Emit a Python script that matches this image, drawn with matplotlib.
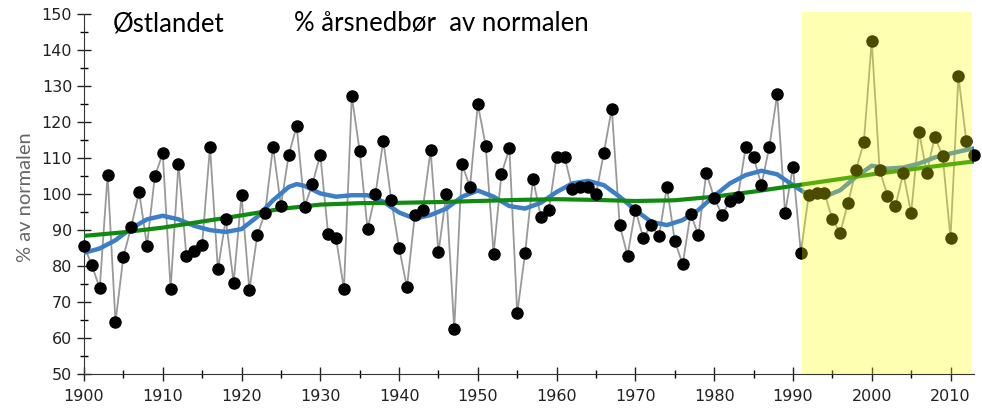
import matplotlib
matplotlib.use("Agg")
import matplotlib.pyplot as plt
from matplotlib.ticker import MultipleLocator

# annual precipitation, % of normal, Østlandet 1900-2013
years = list(range(1900, 2014))
values = [
    85.6, 80.2, 73.7, 105.3, 64.3, 82.5, 90.8, 100.6, 85.6, 104.9,
    111.2, 73.5, 108.4, 82.8, 84.0, 85.9, 113.1, 79.0, 92.9, 75.3,
    99.7, 73.2, 88.5, 94.8, 113.1, 96.7, 110.9, 118.8, 96.4, 102.7,
    110.9, 88.7, 87.7, 73.5, 127.1, 111.9, 90.2, 99.9, 114.8, 98.4,
    85.0, 74.0, 94.1, 95.6, 112.1, 83.7, 100.0, 62.4, 108.2, 101.9,
    124.9, 113.3, 83.4, 105.5, 112.6, 66.8, 83.6, 104.1, 93.6, 95.4,
    110.3, 110.3, 101.3, 101.9, 101.8, 99.9, 111.4, 123.7, 91.4, 82.8,
    95.6, 87.7, 91.3, 88.3, 101.9, 86.9, 80.4, 94.5, 88.5, 105.8,
    98.9, 94.1, 98.0, 99.0, 112.9, 110.2, 102.4, 113.1, 127.6, 94.7,
    107.5, 83.6, 99.6, 100.3, 100.3, 92.9, 89.2, 97.5, 106.6, 114.4,
    142.5, 106.6, 99.5, 96.5, 105.8, 94.6, 117.1, 105.9, 115.9, 110.6,
    87.6, 132.7, 114.8, 110.8,
]

# smoothed curve (blue)
smooth_years = [1900, 1902, 1904, 1906, 1908, 1910, 1912, 1914, 1916, 1918,
                1920, 1922, 1924, 1926, 1927, 1928, 1930, 1932, 1934, 1936,
                1938, 1940, 1942, 1944, 1946, 1948, 1950, 1952, 1954, 1956,
                1958, 1960, 1962, 1964, 1966, 1968, 1970, 1972, 1974, 1976,
                1978, 1980, 1982, 1984, 1986, 1988, 1990, 1992, 1994, 1996,
                1998, 2000, 2002, 2004, 2006, 2008, 2010, 2012, 2013]
smooth_vals = [83.6, 84.8, 87.1, 90.4, 92.9, 93.9, 92.9, 91.1, 89.9, 89.4,
               90.2, 93.6, 98.2, 101.9, 102.7, 102.2, 100.1, 99.2, 99.6, 99.6,
               97.8, 94.8, 93.1, 94.1, 95.9, 99.2, 100.9, 99.2, 96.6, 95.9,
               97.5, 100.5, 102.9, 103.6, 102.4, 99.2, 95.5, 92.2, 91.3, 92.7,
               95.5, 99.4, 102.9, 105.2, 106.4, 105.4, 102.4, 99.6, 99.2, 101.0,
               104.7, 107.8, 107.0, 107.3, 108.4, 110.1, 111.2, 112.2, 112.6]

# long-term trend (green)
trend_years = [1900, 1905, 1910, 1915, 1920, 1925, 1930, 1935, 1940, 1945,
               1950, 1955, 1960, 1965, 1970, 1975, 1980, 1985, 1990, 1995,
               2000, 2005, 2010, 2013]
trend_vals = [88.3, 89.3, 90.6, 92.3, 94.0, 95.8, 97.0, 97.4, 97.5, 97.7,
              98.0, 98.3, 98.5, 98.3, 98.0, 98.2, 99.2, 100.6, 102.2, 103.8,
              105.4, 106.8, 108.2, 109.0]

fig = plt.figure(figsize=(9.82, 4.08), dpi=100)
ax = fig.add_axes([0.0855, 0.084, 0.9065, 0.882])

ax.plot(years, values, color="#999999", lw=1.3, zorder=2)
ax.plot(smooth_years, smooth_vals, color="#3d7fc6", lw=3.2, zorder=3,
        solid_capstyle="round")
ax.plot(trend_years, trend_vals, color="#118a11", lw=3.0, zorder=4)
ax.plot(years, values, "o", color="black", ms=8, zorder=5, clip_on=False)

# highlighted recent period (drawn on top, like a transparent overlay)
ax.axvspan(1991.1, 2012.7, ymax=1.005, color="#ffff00", alpha=0.3, lw=0,
           zorder=6, clip_on=False)

ax.set_xlim(1900, 2013)
ax.set_ylim(50, 150)
ax.xaxis.set_major_locator(MultipleLocator(10))
ax.xaxis.set_minor_locator(MultipleLocator(5))
ax.yaxis.set_major_locator(MultipleLocator(10))
ax.yaxis.set_minor_locator(MultipleLocator(5))
ax.tick_params(which="major", direction="inout", length=10, width=1,
               labelsize=11.5, colors="#222222")
ax.tick_params(which="minor", direction="inout", length=6, width=1)
ax.tick_params(axis="x", pad=6)

for s in ["top", "right"]:
    ax.spines[s].set_visible(False)
for s in ["left", "bottom"]:
    ax.spines[s].set_color("#333333")

for lbl in ax.get_xticklabels() + ax.get_yticklabels():
    lbl.set_family(["Liberation Sans Narrow", "DejaVu Sans"])

ax.set_ylabel("% av normalen", fontsize=14.5, color="#666666",
              family=["Lato", "DejaVu Sans"])
ax.yaxis.set_label_coords(-0.056, 0.49)

ax.text(1903.6, 145.2, "Østlandet", fontsize=18.5, va="baseline", ha="left",
        family=["Lato", "DejaVu Sans"])
ax.text(1926.6, 145.2, "% årsnedbør  av normalen", fontsize=18.5,
        va="baseline", ha="left", family=["Lato", "DejaVu Sans"])

fig.savefig("out.png", dpi=100)
